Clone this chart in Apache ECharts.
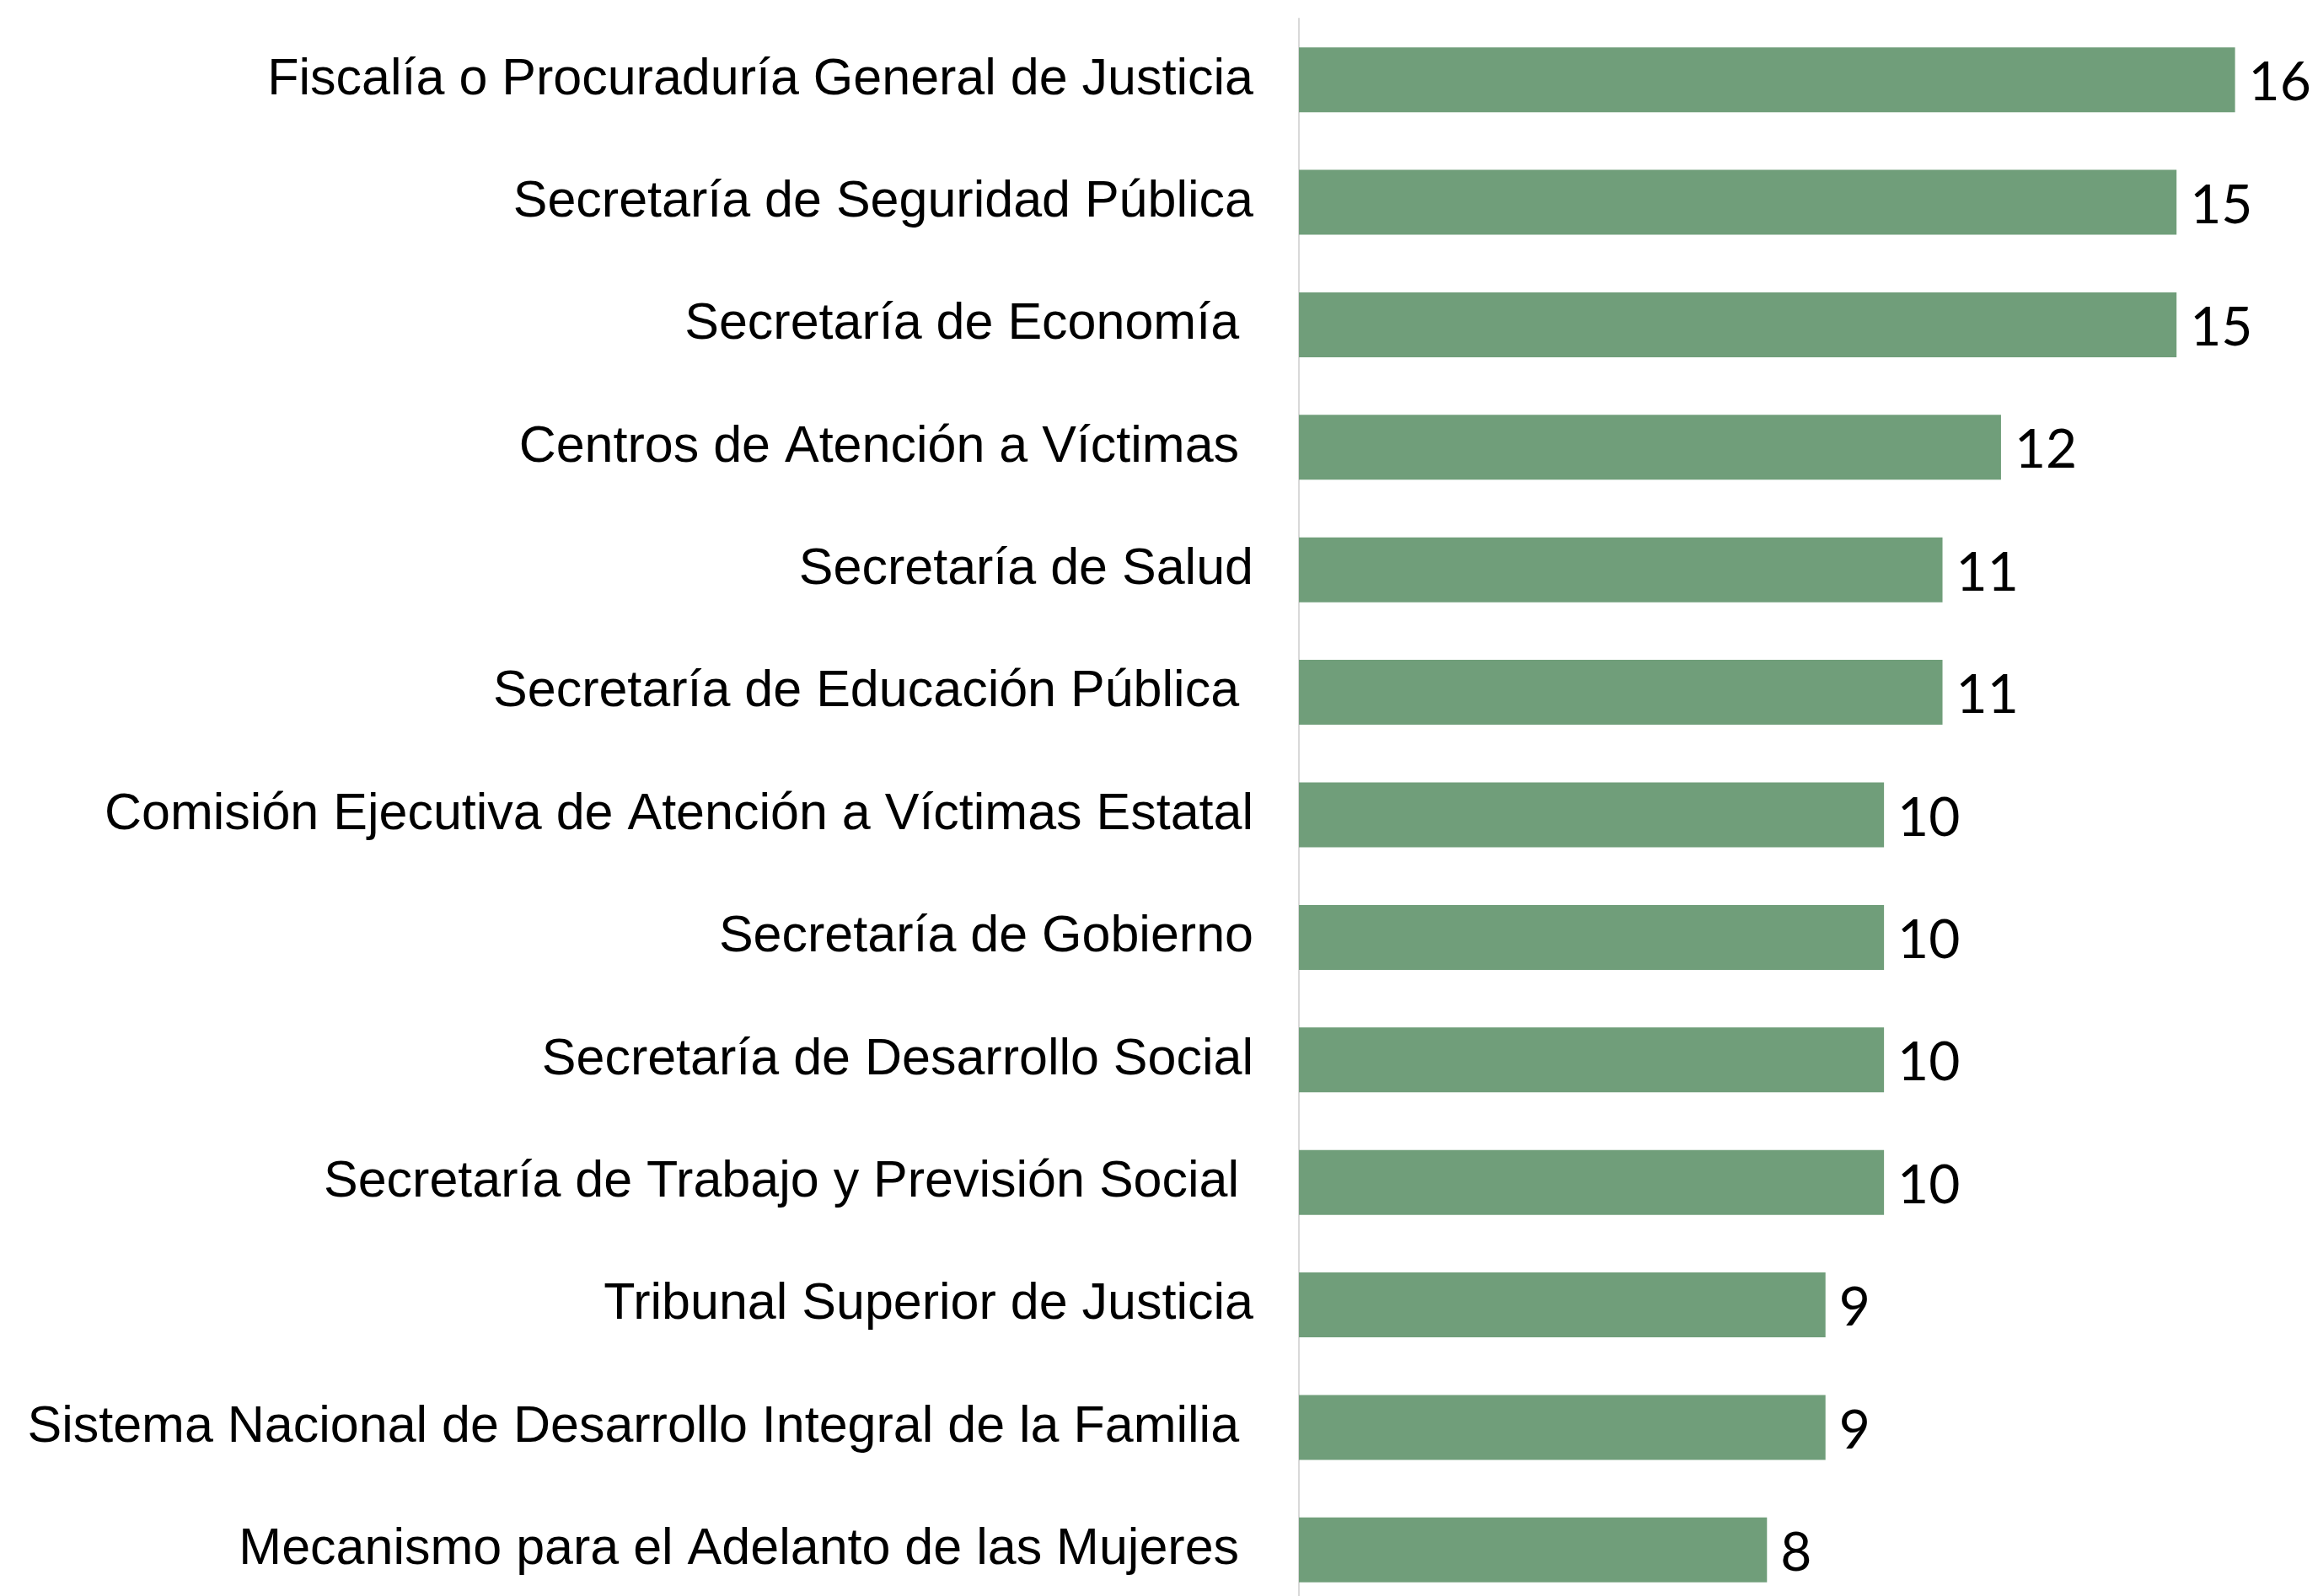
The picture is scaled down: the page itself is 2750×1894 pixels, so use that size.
<!DOCTYPE html>
<html>
<head>
<meta charset="utf-8">
<script src="https://cdn.jsdelivr.net/npm/echarts@6/dist/echarts.min.js"></script>
<style>
  html, body { margin: 0; padding: 0; background: #fff; overflow: hidden; }
  /* the plot runs a little past the bottom edge, as in the original */
  #barChart { width: 2750px; height: 1912px; }
</style>
</head>
<body>
<div id="barChart"></div>
<script>
// categories, top to bottom (some carry a trailing space like the original)
var categories = [
    'Fiscalía o Procuraduría General de Justicia',
    'Secretaría de Seguridad Pública',
    'Secretaría de Economía ',
    'Centros de Atención a Víctimas ',
    'Secretaría de Salud',
    'Secretaría de Educación Pública ',
    'Comisión Ejecutiva de Atención a Víctimas Estatal',
    'Secretaría de Gobierno',
    'Secretaría de Desarrollo Social',
    'Secretaría de Trabajo y Previsión Social ',
    'Tribunal Superior de Justicia',
    'Sistema Nacional de Desarrollo Integral de la Familia ',
    'Mecanismo para el Adelanto de las Mujeres '
];
var values = [16, 15, 15, 12, 11, 11, 10, 10, 10, 10, 9, 9, 8];

var bar = document.getElementById("barChart");
var barChart = echarts.init(bar);
var option = {
    backgroundColor: '#ffffff',
    animation: false,
    grid: { left: 1541, top: 22, width: 1180, bottom: 0 },
    xAxis: {
        type: 'value',
        min: 0,
        max: 17,
        show: false,
        splitLine: { show: false }
    },
    yAxis: {
        type: 'category',
        inverse: true,
        data: categories,
        axisLine: {
            show: true,
            lineStyle: { color: '#d9d9d9', width: 2 }
        },
        axisTick: { show: false },
        axisLabel: {
            margin: 54,
            color: '#000000',
            fontFamily: 'Liberation Sans, Arial, sans-serif',
            fontSize: 61,
            padding: [6, 0, 0, 0]
        }
    },
    series: [{
        name: 'Total',
        type: 'bar',
        data: values,
        barWidth: 77,
        itemStyle: { color: '#709e7a' },
        label: {
            show: true,
            position: 'right',
            distance: 16,
            offset: [0, 4],
            color: '#000000',
            fontFamily: 'Lato, sans-serif',
            fontSize: 64
        }
    }]
};
barChart.setOption(option, true);
</script>
</body>
</html>
